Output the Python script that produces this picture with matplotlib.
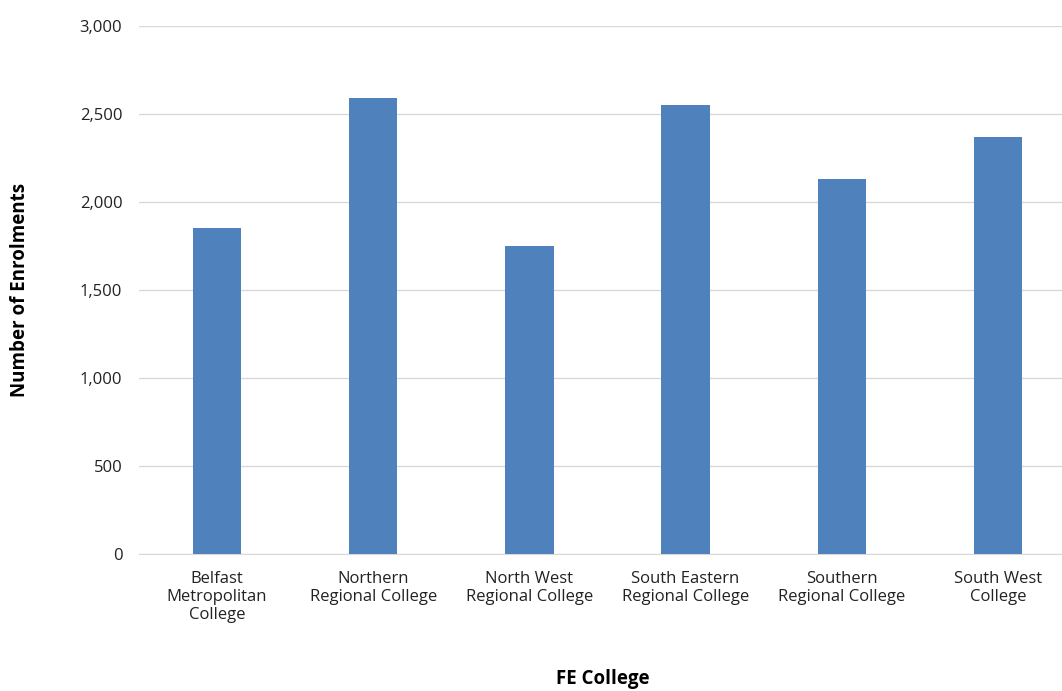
import matplotlib
matplotlib.use("Agg")
import matplotlib.pyplot as plt

colleges = ["Belfast\nMetropolitan\nCollege", "Northern\nRegional College",
            "North West\nRegional College", "South Eastern\nRegional College",
            "Southern\nRegional College", "South West\nCollege"]
enrolments = [1852, 2591, 1750, 2551, 2131, 2369]

plt.rcParams['font.family'] = ['Open Sans', 'DejaVu Sans']
fig = plt.figure(figsize=(10.62, 6.91), dpi=100)
ax = fig.add_axes([139/1062, 1-554/691, 937/1062, 528/691])

x = range(len(colleges))
ax.bar(x, enrolments, width=0.31, color="#4F81BD", zorder=3)
ax.set_xlim(-0.5, 5.5)
ax.set_ylim(0, 3000)
ax.set_yticks(range(0, 3001, 500))
ax.set_yticklabels([f"{v:,}" for v in range(0, 3001, 500)])
ax.set_xticks(list(x))
ax.set_xticklabels(colleges)
ax.tick_params(axis="both", length=0, labelsize=12, colors="#222222", pad=12)
ax.grid(axis="y", color="#D9D9D9", linewidth=1, zorder=0)
for s in ["top", "right", "left"]:
    ax.spines[s].set_visible(False)
ax.spines["bottom"].set_color("#D9D9D9")
ax.set_ylabel("Number of Enrolments", fontsize=13.5, fontweight="bold", va="center")
ax.yaxis.set_label_coords(-(139 - 20)/937, 0.5)
ax.set_xlabel("FE College", fontsize=13.5, fontweight="bold", va="center")
ax.xaxis.set_label_coords((603 - 139)/937, -(679 - 554)/528)

fig.savefig("out.png", dpi=100)
